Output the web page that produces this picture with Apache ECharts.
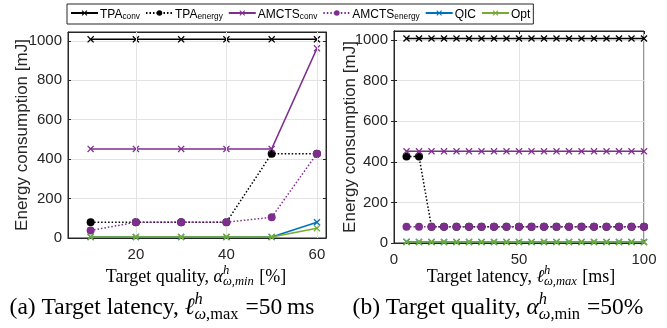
<!DOCTYPE html>
<html><head><meta charset="utf-8">
<script src="https://cdn.jsdelivr.net/npm/echarts@6/dist/echarts.min.js"></script>
<style>html,body{margin:0;padding:0;background:#fff}#c{width:667px;height:328px}</style>
</head><body><div id="c"></div>
<script>
// ---------- data ----------
const seriesNames = ['TPA_conv', 'TPA_energy', 'AMCTS_conv', 'AMCTS_energy', 'QIC', 'Opt'];
const legendMain = ['TPA', 'TPA', 'AMCTS', 'AMCTS', 'QIC', 'Opt'];
const legendSub = ['conv', 'energy', 'conv', 'energy', '', ''];

// (a) x: target quality [%]
const qualityX = [10, 20, 30, 40, 50, 60];
const qTPAconv = [1008, 1008, 1008, 1008, 1008, 1008];
const qTPAenergy = [80, 80, 80, 80, 428, 428];
const qAMCTSconv = [452, 452, 452, 452, 452, 962];
const qAMCTSenergy = [38, 80, 80, 80, 105, 428];
const qQIC = [5, 5, 5, 5, 5, 80];
const qOpt = [5, 5, 5, 5, 5, 50];

// (b) x: target latency [ms]
const latencyX = [5, 10, 15, 20, 25, 30, 35, 40, 45, 50, 55, 60, 65, 70, 75, 80, 85, 90, 95, 100];
const lTPAconv = [1008, 1008, 1008, 1008, 1008, 1008, 1008, 1008, 1008, 1008, 1008, 1008, 1008, 1008, 1008, 1008, 1008, 1008, 1008, 1008];
const lTPAenergy = [426, 426, 80, 80, 80, 80, 80, 80, 80, 80, 80, 80, 80, 80, 80, 80, 80, 80, 80, 80];
const lAMCTSconv = [452, 452, 452, 452, 452, 452, 452, 452, 452, 452, 452, 452, 452, 452, 452, 452, 452, 452, 452, 452];
const lAMCTSenergy = [80, 80, 80, 80, 80, 80, 80, 80, 80, 80, 80, 80, 80, 80, 80, 80, 80, 80, 80, 80];
const lQIC = [6, 5, 5, 5, 5, 5, 5, 5, 5, 5, 5, 5, 5, 5, 5, 5, 5, 5, 5, 5];
const lOpt = [5, 5, 5, 5, 5, 5, 5, 5, 5, 5, 5, 5, 5, 5, 5, 5, 5, 5, 5, 5];

const qualityTicks = [20, 40, 60];
const latencyTicks = [0, 50, 100];
const energyTicks = [0, 200, 400, 600, 800, 1000];

// ---------- styling ----------
const SANS = '"Liberation Sans", Arial, Helvetica, sans-serif';
const SERIF = '"Liberation Serif", "Times New Roman", serif';
const AX = '#262626';
const GRIDC = '#e3e3e3';
const CROSS = 'path://M0,1.3L1.3,0L5,3.7L8.7,0L10,1.3L6.3,5L10,8.7L8.7,10L5,6.3L1.3,10L0,8.7L3.7,5Z';
const styles = [
  {color: '#000000', dotted: false, sym: CROSS, size: 7},
  {color: '#000000', dotted: true, sym: 'circle', size: 8},
  {color: '#7E2F8E', dotted: false, sym: CROSS, size: 7},
  {color: '#7E2F8E', dotted: true, sym: 'circle', size: 8},
  {color: '#0072BD', dotted: false, sym: CROSS, size: 7},
  {color: '#77AC30', dotted: false, sym: CROSS, size: 7}
];
const qSets = [qTPAconv, qTPAenergy, qAMCTSconv, qAMCTSenergy, qQIC, qOpt];
const lSets = [lTPAconv, lTPAenergy, lAMCTSconv, lAMCTSenergy, lQIC, lOpt];

const zip = (xs, ys) => xs.map((x, i) => [x, ys[i]]);

function makeSeries(idx, xs, ys, axisIdx) {
  const s = styles[idx];
  return {
    name: seriesNames[idx], type: 'line', xAxisIndex: axisIdx, yAxisIndex: axisIdx,
    data: zip(xs, ys), symbol: s.sym, symbolSize: s.size, showSymbol: true,
    lineStyle: {color: s.color, width: 1.5, type: s.dotted ? [1.5, 2] : 'solid'},
    itemStyle: {color: s.color},
    emphasis: {disabled: true}, animation: false, z: 2 + idx
  };
}

const series = [];
seriesNames.forEach((n, i) => series.push(makeSeries(i, qualityX, qSets[i], 0)));
seriesNames.forEach((n, i) => series.push(makeSeries(i, latencyX, lSets[i], 1)));
// vertical grid lines of panel (a) at its tick positions
series.push({
  type: 'line', xAxisIndex: 0, yAxisIndex: 0, data: [], silent: true, z: 1,
  markLine: {silent: true, symbol: 'none', label: {show: false}, animation: false,
    lineStyle: {color: GRIDC, width: 1, type: 'solid'},
    data: qualityTicks.map(v => ({xAxis: v}))}
});

const grids = [
  {left: 68, top: 32, width: 258, height: 206},
  {left: 394, top: 31, width: 250, height: 212}
];

const tickLabel = {fontFamily: SANS, fontSize: 15, color: AX, formatter: v => String(v)};

function yAx(gi, right) {
  return {
    type: 'value', gridIndex: gi, position: right ? 'right' : 'left', min: 0, max: 1045, interval: 200,
    axisLine: {show: true, lineStyle: {color: AX, width: 1}},
    axisTick: {show: true, inside: true, length: 3, lineStyle: {color: AX}, customValues: energyTicks},
    axisLabel: right ? {show: false} : Object.assign({margin: 6, customValues: energyTicks}, tickLabel),
    splitLine: {show: !right, lineStyle: {color: GRIDC, width: 1}},
    name: right ? '' : 'Energy consumption [mJ]', nameLocation: 'middle', nameGap: gi === 0 ? 37 : 35,
    nameMoveOverlap: false,
    nameTextStyle: {fontFamily: SANS, fontSize: 17, color: AX}
  };
}
function xAx(gi, top) {
  const base = gi === 0
    ? {min: 5, max: 62, interval: 20, ticks: qualityTicks}
    : {min: 0, max: 100, interval: 50, ticks: latencyTicks};
  return {
    type: 'value', gridIndex: gi, position: top ? 'top' : 'bottom', min: base.min, max: base.max, interval: base.interval,
    axisLine: {show: true, onZero: false, lineStyle: {color: AX, width: 1}},
    axisTick: {show: true, inside: true, length: 3, lineStyle: {color: AX}, customValues: base.ticks},
    axisLabel: top ? {show: false} : Object.assign({margin: 9, customValues: base.ticks}, tickLabel),
    splitLine: {show: gi === 1 && !top, lineStyle: {color: GRIDC, width: 1}}
  };
}

// ---------- math-ish text helper ----------
const mctx = document.createElement('canvas').getContext('2d');
function fontStr(size, italic, fam) { return (italic ? 'italic ' : '') + size + 'px ' + fam; }
function runWidth(parts, size) {
  let w = 0;
  for (const q of parts) { mctx.font = fontStr(size, q.it, SERIF); w += mctx.measureText(q.t).width; }
  return w;
}
function mathText(cx, cy, pieces, size) {
  let x = 0; const items = [];
  const fs = size * 0.7;
  for (const p of pieces) {
    if (p.stack) {
      const w1 = runWidth(p.sup, fs), w2 = runWidth(p.sub, fs);
      let xx = x;
      for (const q of p.sup) { const f = fontStr(fs, q.it, SERIF); items.push({t: q.t, x: xx, dy: -size * 0.36, f: f}); mctx.font = f; xx += mctx.measureText(q.t).width; }
      xx = x;
      for (const q of p.sub) { const f = fontStr(fs, q.it, SERIF); items.push({t: q.t, x: xx, dy: size * 0.28, f: f}); mctx.font = f; xx += mctx.measureText(q.t).width; }
      x += Math.max(w1, w2) + size * 0.05;
    } else {
      const f = fontStr(size, !!p.it, SERIF);
      mctx.font = f;
      items.push({t: p.t, x: x, dy: 0, f: f});
      x += mctx.measureText(p.t).width;
    }
  }
  const x0 = cx - x / 2;
  return items.map(it => ({
    type: 'text', x: x0 + it.x, y: cy + it.dy, silent: true,
    style: {text: it.t, font: it.f, fill: '#000', align: 'left', verticalAlign: 'middle'}
  }));
}

const H = [{t: 'h', it: true}];
const graphics = [].concat(
  mathText(196, 277, [{t: 'Target quality, '}, {t: 'α', it: true}, {stack: true, sup: H, sub: [{t: 'ω,min', it: true}]}, {t: ' [%]'}], 18),
  mathText(521, 277, [{t: 'Target latency, '}, {t: 'ℓ', it: true}, {stack: true, sup: H, sub: [{t: 'ω,max', it: true}]}, {t: ' [ms]'}], 18),
  mathText(162, 308, [{t: '(a) Target latency, '}, {t: 'ℓ', it: true}, {stack: true, sup: H, sub: [{t: 'ω', it: true}, {t: ',max'}]}, {t: ' =50\u2009ms'}], 23.5),
  mathText(498, 308, [{t: '(b) Target quality, '}, {t: 'α', it: true}, {stack: true, sup: H, sub: [{t: 'ω', it: true}, {t: ',min'}]}, {t: ' =50%'}], 23.5)
);

const richLegend = {
  m: {fontFamily: SANS, fontSize: 12, color: '#000', lineHeight: 16, verticalAlign: 'bottom'},
  s: {fontFamily: SANS, fontSize: 8.3, color: '#000', lineHeight: 12, padding: [6, 0, 0, 0], verticalAlign: 'bottom'}
};

const option = {
  animation: false,
  backgroundColor: '#fff',
  grid: grids.map(g => Object.assign({show: true, borderColor: AX, borderWidth: 1, backgroundColor: 'transparent'}, g)),
  xAxis: [xAx(0, false), xAx(1, false), xAx(0, true), xAx(1, true)],
  yAxis: [yAx(0, false), yAx(1, false), yAx(0, true), yAx(1, true)],
  legend: {
    data: seriesNames, left: 67, top: 4, orient: 'horizontal',
    itemWidth: 27, itemHeight: 7, itemGap: 5, padding: [3, 3, 3, 3],
    borderColor: AX, borderWidth: 1, backgroundColor: '#fff', selectedMode: false,
    formatter: name => {
      const i = seriesNames.indexOf(name);
      return '{m|' + legendMain[i] + '}' + (legendSub[i] ? '{s|' + legendSub[i] + '}' : '');
    },
    textStyle: {rich: richLegend, padding: [0, 0, 0, -3]}
  },
  series: series,
  graphic: graphics
};

const chart = echarts.init(document.getElementById('c'), null, {renderer: 'canvas'});
chart.setOption(option);
</script>
</body></html>
